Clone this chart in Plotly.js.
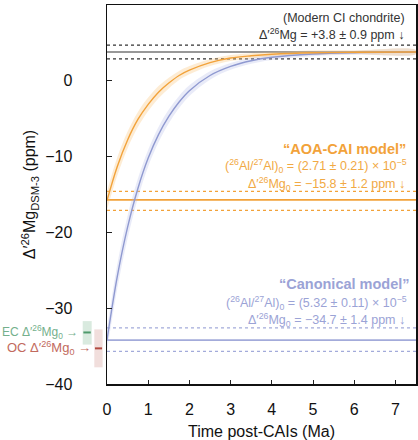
<!DOCTYPE html>
<html>
<head>
<meta charset="utf-8">
<script src="https://cdn.plot.ly/plotly-3.0.1.min.js"></script>
<style>html,body{margin:0;padding:0;background:#fff;}#chart{width:418px;height:440px;}</style>
</head>
<body>
<div id="chart"></div>
<script>
// ---- data ----
const timeMa = [0, 0.25, 0.5, 0.75, 1, 1.25, 1.5, 1.75, 2, 2.5, 3, 3.5, 4, 5, 6, 7.5];
const aoaCurve = [-15.8, -11.3, -7.8, -5.1, -3.1, -1.5, -0.3, 0.7, 1.4, 2.4, 3.0, 3.3, 3.5, 3.7, 3.76, 3.8];
const aoaBand = [1.2, 1.2, 1.1, 1.0, 0.9, 0.8, 0.7, 0.6, 0.55, 0.45, 0.4, 0.35, 0.3, 0.3, 0.25, 0.25];
const canonicalCurve = [-34.2, -25.8, -19.3, -14.2, -10.2, -7.1, -4.7, -2.8, -1.3, 0.7, 1.9, 2.65, 3.1, 3.54, 3.71, 3.78];
const canonicalBand = [1.4, 1.6, 1.5, 1.3, 1.1, 1.0, 0.9, 0.8, 0.7, 0.55, 0.45, 0.4, 0.35, 0.3, 0.25, 0.25];

const ciLevels = [4.7, 3.8, 2.9];          // upper, mean, lower
const aoaLevels = [-14.6, -15.7, -17.1];
const canonicalLevels = [-32.6, -34.2, -35.7];

const ecValue = [-33.2, -31.7, -34.8];     // mean, top, bottom
const ocValue = [-35.3, -32.8, -37.8];

const xTicks = [0, 1, 2, 3, 4, 5, 6, 7];
const yTicks = [10, 0, -10, -20, -30, -40];

// ---- styling ----
const FONT = 'Liberation Sans, Arial, Helvetica, sans-serif';
const ORANGE = '#F2A23A', ORANGE_TXT = '#F1A944', ORANGE_BAND = 'rgba(248,196,120,0.32)';
const BLUE = '#8F99D0', BLUE_LINE = '#A3ABDA', BLUE_TXT = '#9BA3D6', BLUE_BAND = 'rgba(175,184,230,0.28)';
const GREY = '#333333';

function bandPolygon(x, y, h) {
  const up = y.map((v, i) => v + h[i]);
  const lo = y.map((v, i) => v - h[i]);
  return { x: x.concat(x.slice().reverse()), y: up.concat(lo.slice().reverse()) };
}
const aoaPoly = bandPolygon(timeMa, aoaCurve, aoaBand);
const canPoly = bandPolygon(timeMa, canonicalCurve, canonicalBand);

const traces = [
  { x: canPoly.x, y: canPoly.y, type: 'scatter', mode: 'lines', fill: 'toself', fillcolor: BLUE_BAND,
    line: { width: 0, shape: 'spline' }, hoverinfo: 'skip', showlegend: false },
  { x: aoaPoly.x, y: aoaPoly.y, type: 'scatter', mode: 'lines', fill: 'toself', fillcolor: ORANGE_BAND,
    line: { width: 0, shape: 'spline' }, hoverinfo: 'skip', showlegend: false },
  { x: timeMa, y: canonicalCurve, type: 'scatter', mode: 'lines', line: { color: BLUE, width: 1.4, shape: 'spline' }, showlegend: false },
  { x: timeMa, y: aoaCurve, type: 'scatter', mode: 'lines', line: { color: ORANGE, width: 1.4, shape: 'spline' }, showlegend: false }
];

function hline(v, color, dash, width) {
  return { type: 'line', xref: 'paper', x0: 0, x1: 1, yref: 'y', y0: v, y1: v,
    line: { color: color, width: width, dash: dash }, layer: 'below' };
}
const shapes = [
  hline(ciLevels[0], GREY, 'dot', 1.2), hline(ciLevels[1], GREY, 'solid', 1.2), hline(ciLevels[2], GREY, 'dot', 1.2),
  hline(aoaLevels[0], ORANGE, 'dot', 1.2), hline(aoaLevels[1], ORANGE, 'solid', 1.8), hline(aoaLevels[2], ORANGE, 'dot', 1.2),
  hline(canonicalLevels[0], BLUE_LINE, 'dot', 1.2), hline(canonicalLevels[1], BLUE_LINE, 'solid', 1.8), hline(canonicalLevels[2], BLUE_LINE, 'dot', 1.2),
  // EC box + mean
  { type: 'rect', xref: 'paper', x0: -0.0786, x1: -0.0495, yref: 'y', y0: ecValue[2], y1: ecValue[1],
    fillcolor: 'rgba(120,180,140,0.28)', line: { width: 0 } },
  { type: 'line', xref: 'paper', x0: -0.0765, x1: -0.0525, yref: 'y', y0: ecValue[0], y1: ecValue[0],
    line: { color: '#4F9A6C', width: 2 } },
  // OC box + mean
  { type: 'rect', xref: 'paper', x0: -0.0411, x1: -0.0142, yref: 'y', y0: ocValue[2], y1: ocValue[1],
    fillcolor: 'rgba(200,125,115,0.25)', line: { width: 0 } },
  { type: 'line', xref: 'paper', x0: -0.039, x1: -0.016, yref: 'y', y0: ocValue[0], y1: ocValue[0],
    line: { color: '#B24A40', width: 2 } }
];

function note(text, x, y, color, size, bold, anchor) {
  return { text: bold ? '<b>' + text + '</b>' : text, xref: 'paper', x: x, yref: 'y', y: y,
    xanchor: anchor || 'right', yanchor: 'middle', showarrow: false,
    font: { family: FONT, size: size, color: color } };
}
const annotations = [
  note('(Modern CI chondrite)', 0.970, 8.3, GREY, 12.5),
  note('Δ′<sup>26</sup>Mg = +3.8 ± 0.9 ppm ↓', 0.968, 6.2, GREY, 12.5),
  note('“AOA-CAI model”', 0.974, -9.0, ORANGE, 14.5, true),
  note('(<sup>26</sup>Al/<sup>27</sup>Al)<sub>0</sub> = (2.71 ± 0.21) × 10<sup>−5</sup>', 0.977, -11.3, ORANGE_TXT, 12.5),
  note('Δ′<sup>26</sup>Mg<sub>0</sub> = −15.8 ± 1.2 ppm ↓', 0.971, -13.6, ORANGE_TXT, 12.5),
  note('“Canonical model”', 0.987, -26.8, BLUE_TXT, 14.5, true),
  note('(<sup>26</sup>Al/<sup>27</sup>Al)<sub>0</sub> = (5.32 ± 0.11) × 10<sup>−5</sup>', 0.977, -29.3, BLUE_TXT, 12.5),
  note('Δ′<sup>26</sup>Mg<sub>0</sub> = −34.7 ± 1.4 ppm ↓', 0.971, -31.5, BLUE_TXT, 12.5),
  note('EC Δ′<sup>26</sup>Mg<sub>0</sub> →', -0.088, ecValue[0], '#74B08C', 12),
  note('OC Δ′<sup>26</sup>Mg<sub>0</sub> →', -0.045, ocValue[0], '#C26A5E', 13)
];

const layout = {
  width: 418, height: 440,
  margin: { l: 107, r: 2, t: 5, b: 56, pad: 0 },
  paper_bgcolor: '#fff', plot_bgcolor: '#fff',
  font: { family: FONT, size: 16, color: '#111' },
  showlegend: false,
  xaxis: {
    range: [0, 7.5], tickvals: xTicks, ticktext: xTicks.map(String),
    ticks: 'inside', ticklen: 4, tickwidth: 1, tickcolor: '#222',
    showgrid: false, zeroline: false, showline: true, linecolor: '#111', linewidth: 1.5, mirror: true,
    ticklabelstandoff: 10,
    tickfont: { family: FONT, size: 16, color: '#111' },
    title: { text: 'Time post-CAIs (Ma)', font: { family: FONT, size: 16, color: '#111' }, standoff: 12 }
  },
  yaxis: {
    range: [-40, 10], tickvals: yTicks, ticktext: yTicks.map(v => v < 0 ? '−' + Math.abs(v) : String(v)),
    ticksuffix: '\u2002',
    ticks: 'inside', ticklen: 5, tickwidth: 1, tickcolor: '#222',
    showgrid: false, zeroline: false, showline: true, linecolor: '#111', linewidth: 1.5, mirror: true,
    ticklabelstandoff: 30,
    tickfont: { family: FONT, size: 16, color: '#111' },
    title: { text: 'Δ′<sup>26</sup>Mg<sub>DSM-3</sub> (ppm)', font: { family: FONT, size: 16, color: '#111' }, standoff: 5 }
  },
  shapes: shapes,
  annotations: annotations
};

Plotly.newPlot('chart', traces, layout, { displayModeBar: false, staticPlot: true });
</script>
</body>
</html>
